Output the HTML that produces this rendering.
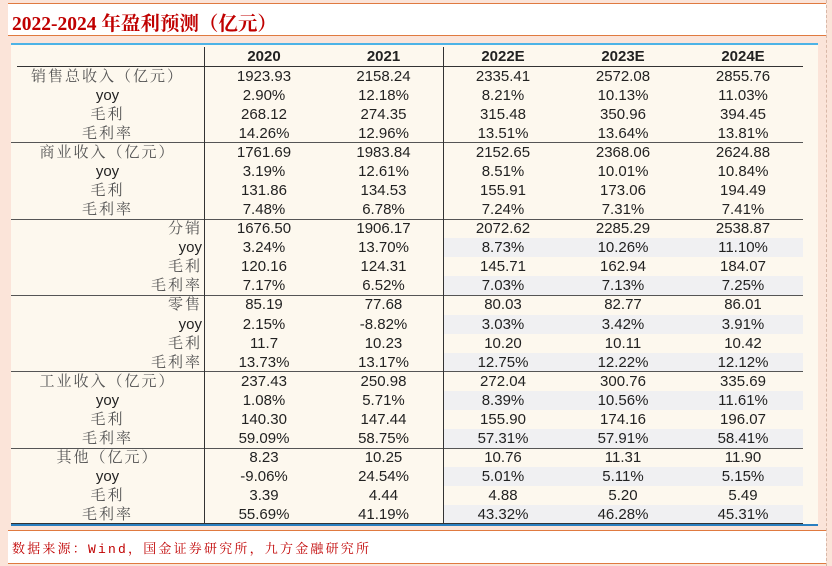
<!DOCTYPE html>
<html><head><meta charset="utf-8"><style>
body{margin:0;width:832px;height:566px;background:#fbe4d9;position:relative;overflow:hidden;font-family:"Liberation Sans","Noto Sans CJK SC",sans-serif}
#frame{position:absolute;left:0;top:0;width:826px;height:566px;border-right:1px dashed #d9b8a8}
#titlebar{position:absolute;left:8px;top:3px;width:818px;height:31px;background:#fff;border-top:1px solid #e07a40;border-bottom:1px solid #e07a40}
#title{position:absolute;left:4px;top:4px;font-family:"Liberation Serif","Noto Serif CJK SC",serif;font-size:19.5px;color:#c00000;font-weight:bold}
#panel{position:absolute;left:11px;top:43px;width:807px;height:482px;background:#fdf8ee}
#topline{position:absolute;left:11px;top:43px;width:807px;height:2px;background:#4cb3e6}
#botline{position:absolute;left:11px;top:524px;width:807px;height:2px;background:#2a7fc0}
.cell{position:absolute;font-size:15px;color:#222;text-align:center;line-height:19px;white-space:nowrap;height:19px}
.lab{font-family:"Liberation Sans","Noto Serif CJK SC",serif;color:#555;letter-spacing:2px}
.hl{position:absolute;height:1px;background:#555}
.vl{position:absolute;width:1px;background:#333;top:47px;height:477px}
.sh{position:absolute;background:#f0f0f2;height:19px}
#footer{position:absolute;left:8px;top:530px;width:818px;height:32px;background:#fff;border-top:1px solid #e07a40;border-bottom:1px solid #e07a40}
#src{position:absolute;left:4px;top:7px;font-family:"Liberation Mono","Noto Serif CJK SC",monospace;font-size:13px;color:#c00000;letter-spacing:2.2px}
</style></head><body>
<div id="frame"></div>
<div id="titlebar"><div id="title">2022-2024 年盈利预测（亿元）</div></div>
<div id="panel"></div>
<div id="topline"></div>
<div id="botline"></div>
<div id="tbl"></div>
<div id="footer"><div id="src">数据来源：Wind，国金证券研究所，九方金融研究所</div></div>
<script>
const years=["2020","2021","2022E","2023E","2024E"];
const labels=["销售总收入（亿元）","yoy","毛利","毛利率","商业收入（亿元）","yoy","毛利","毛利率","分销","yoy","毛利","毛利率","零售","yoy","毛利","毛利率","工业收入（亿元）","yoy","毛利","毛利率","其他（亿元）","yoy","毛利","毛利率"];
const v2020=["1923.93","2.90%","268.12","14.26%","1761.69","3.19%","131.86","7.48%","1676.50","3.24%","120.16","7.17%","85.19","2.15%","11.7","13.73%","237.43","1.08%","140.30","59.09%","8.23","-9.06%","3.39","55.69%"];
const v2021=["2158.24","12.18%","274.35","12.96%","1983.84","12.61%","134.53","6.78%","1906.17","13.70%","124.31","6.52%","77.68","-8.82%","10.23","13.17%","250.98","5.71%","147.44","58.75%","10.25","24.54%","4.44","41.19%"];
const v2022=["2335.41","8.21%","315.48","13.51%","2152.65","8.51%","155.91","7.24%","2072.62","8.73%","145.71","7.03%","80.03","3.03%","10.20","12.75%","272.04","8.39%","155.90","57.31%","10.76","5.01%","4.88","43.32%"];
const v2023=["2572.08","10.13%","350.96","13.64%","2368.06","10.01%","173.06","7.31%","2285.29","10.26%","162.94","7.13%","82.77","3.42%","10.11","12.22%","300.76","10.56%","174.16","57.91%","11.31","5.11%","5.20","46.28%"];
const v2024=["2855.76","11.03%","394.45","13.81%","2624.88","10.84%","194.49","7.41%","2538.87","11.10%","184.07","7.25%","86.01","3.91%","10.42","12.12%","335.69","11.61%","196.07","58.41%","11.90","5.15%","5.49","45.31%"];
const cols=[v2020,v2021,v2022,v2023,v2024];
const colX=[204,324,443,563,683,803];
const T=document.getElementById('tbl');
const rowY=r=>66+r*19.08;
function mk(cls,name,style,text){const d=document.createElement('div');d.className=cls;


Object.assign(d.style,style);if(text!==undefined)d.textContent=text;T.appendChild(d);return d;}
labels.forEach((lb,r)=>{const sec=Math.floor(r/4);
 if(sec>=2&&(r%4==1||r%4==3))mk('sh','row-shading',{left:'444px',width:'359px',top:(rowY(r)+0.5)+'px'});});
years.forEach((y,i)=>{mk('cell','header-'+y.toLowerCase(),{left:colX[i]+'px',width:(colX[i+1]-colX[i])+'px',top:'47px',fontWeight:'bold'},y);});
mk('hl','header-rule',{left:'17px',width:'786px',top:'66px',background:'#333'});
for(let s=1;s<6;s++)mk('hl','section-rule',{left:'11px',width:'792px',top:Math.round(rowY(s*4))+'px'});
mk('hl','table-end-rule',{left:'11px',width:'792px',top:'523px',background:'#333'});
mk('vl','label-divider',{left:'204px'});
mk('vl','forecast-divider',{left:'443px'});
labels.forEach((lb,r)=>{const sec=Math.floor(r/4);
 const isYoy=lb==='yoy';
 const st={top:(rowY(r)+0.5)+'px'};
 if(sec==2||sec==3){st.left='11px';st.width='191px';st.textAlign='right';}
 else{st.left='11px';st.width='193px';}
 if(isYoy){st.letterSpacing='0';st.color='#222';st.fontFamily='"Liberation Sans",sans-serif';}
 mk('cell lab','row-label',st,lb);
 cols.forEach((c,i)=>{mk('cell','cell-'+years[i].toLowerCase(),{left:colX[i]+'px',width:(colX[i+1]-colX[i])+'px',top:(rowY(r)+0.5)+'px'},c[r]);});
});
</script>
</body></html>
